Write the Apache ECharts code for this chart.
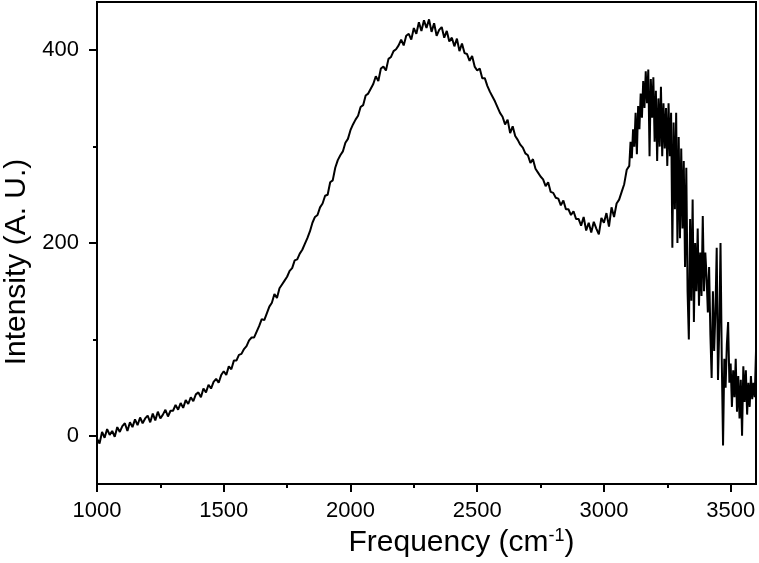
<!DOCTYPE html>
<html>
<head>
<meta charset="utf-8">
<script src="https://cdn.jsdelivr.net/npm/echarts@6/dist/echarts.min.js"></script>
<style>
  html, body { margin: 0; padding: 0; background: #fff; }
  #main { width: 759px; height: 563px; }
</style>
</head>
<body>
<div id="main"></div>
<script>
// smooth part of the spectrum, every 10 cm-1 from 1000 to 3090
var lowStart = 1000;
var lowStep = 10;
var intensityLow = [
  -3, -8, 4, -2, 7, 1, 5, -1, 9, 4,
  10, 13, 5, 14, 9, 17, 11, 19, 13, 18,
  21, 14, 23, 16, 25, 18, 22, 27, 20, 26,
  26, 32, 27, 34, 29, 37, 33, 40, 36, 43,
  45, 40, 49, 45, 53, 49, 56, 59, 55, 63,
  67, 63, 72, 69, 78, 78, 84, 85, 90, 93,
  99, 102, 102, 108, 114, 121, 120, 127, 134, 138,
  147, 143, 153, 157, 161, 165, 171, 174, 182, 183,
  189, 193, 199, 205, 212, 221, 227, 229, 237, 241,
  249, 250, 263, 265, 278, 286, 291, 295, 304, 308,
  317, 323, 328, 332, 341, 343, 353, 355, 360, 365,
  373, 368, 381, 383, 379, 391, 393, 399, 401, 405,
  411, 405, 415, 417, 411, 423, 417, 429, 420, 431,
  423, 432, 419, 428, 415, 421, 424, 413, 420, 409,
  413, 404, 412, 399, 407, 397, 396, 389, 394, 383,
  379, 381, 371, 371, 363, 357, 352, 347, 341, 335,
  331, 323, 328, 314, 321, 311, 307, 302, 299, 293,
  291, 283, 287, 277, 273, 269, 266, 259, 263, 253,
  252, 247, 246, 239, 244, 235, 235, 229, 233, 225,
  225, 218, 227, 213, 221, 211, 222, 215, 209, 226,
  221, 231, 217, 237, 227, 241, 245, 253, 261, 276
];

// noisy OH band, every 5 cm-1 from 3100 to 3600
var highStart = 3100;
var highStep = 5;
var intensityHigh = [
  280, 305, 288, 318, 300, 335, 292, 342, 318, 355,
  330, 368, 340, 378, 345, 380, 290, 370, 330, 372,
  305, 358, 285, 350, 300, 362, 290, 345, 298, 340,
  280, 345, 290, 335, 195, 325, 235, 335, 200, 310,
  205, 298, 215, 285, 175, 278, 150, 100, 225, 140,
  245, 118, 200, 150, 215, 135, 190, 145, 228, 150,
  190, 165, 128, 175, 105, 60, 150, 88, 130, 195,
  58, 110, 200, 78, -10, 80, 50, 95, 118, 55,
  75, 30, 68, 40, 80, 25, 62, 18, 58, 0,
  72, 35, 68, 22, 55, 30, 62, 38, 55, 40,
  88
];

var xLabels = [1000, 1500, 2000, 2500, 3000, 3500];
var xMinor = [1250, 1750, 2250, 2750, 3250];
var yLabels = [0, 200, 400];
var yMinor = [100, 300];

var seriesData = [];
for (var i = 0; i < intensityLow.length; i++) {
  seriesData.push([lowStart + i * lowStep, intensityLow[i]]);
}
for (var j = 0; j < intensityHigh.length; j++) {
  seriesData.push([highStart + j * highStep, intensityHigh[j]]);
}

var chart = echarts.init(document.getElementById('main'));
var font = 'Liberation Sans, Arial, sans-serif';
var lineStyle = { color: '#000', width: 2 };
var plain = function (v) { return String(v); };

var option = {
  backgroundColor: '#fff',
  animation: false,
  grid: {
    left: 97, right: 3, top: 2, bottom: 79,
    containLabel: false, outerBoundsMode: 'none',
    show: true, borderColor: '#000', borderWidth: 2
  },
  xAxis: [{
    type: 'value', min: 1000, max: 3600,
    name: 'Frequency (cm{sup|-1})',
    nameLocation: 'middle', nameGap: 35,
    nameTextStyle: {
      fontFamily: font, fontSize: 30, color: '#000', padding: [0, 0, 0, 70],
      rich: { sup: { fontFamily: font, fontSize: 18, color: '#000', verticalAlign: 'top', padding: [0, 0, 14, 0] } }
    },
    axisLine: { onZero: false, lineStyle: lineStyle },
    axisTick: { customValues: xLabels, length: 8, lineStyle: lineStyle },
    axisLabel: { customValues: xLabels, formatter: plain, margin: 16, fontFamily: font, fontSize: 22, color: '#000' },
    splitLine: { show: false }
  }, {
    // minor ticks only
    type: 'value', min: 1000, max: 3600, position: 'bottom',
    axisLine: { show: false, onZero: false },
    axisTick: { customValues: xMinor, length: 4, lineStyle: lineStyle },
    axisLabel: { show: false },
    splitLine: { show: false }
  }],
  yAxis: [{
    type: 'value', min: -50, max: 450,
    name: 'Intensity (A. U.)',
    nameLocation: 'middle', nameGap: 64,
    nameTextStyle: { fontFamily: font, fontSize: 30, color: '#000', padding: [0, 38, 0, 0] },
    axisLine: { onZero: false, lineStyle: lineStyle },
    axisTick: { customValues: yLabels, length: 8, lineStyle: lineStyle },
    axisLabel: { customValues: yLabels, formatter: plain, margin: 18, fontFamily: font, fontSize: 22, color: '#000' },
    splitLine: { show: false }
  }, {
    type: 'value', min: -50, max: 450, position: 'left',
    axisLine: { show: false, onZero: false },
    axisTick: { customValues: yMinor, length: 4, lineStyle: lineStyle },
    axisLabel: { show: false },
    splitLine: { show: false }
  }],
  series: [{
    type: 'line',
    data: seriesData,
    showSymbol: false,
    lineStyle: { color: '#000', width: 2 },
    z: 1
  }]
};
chart.setOption(option);
</script>
</body>
</html>
